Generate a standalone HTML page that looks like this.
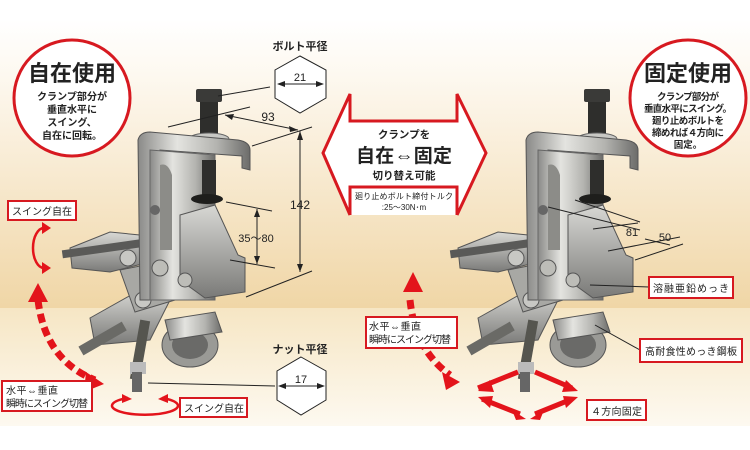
<!DOCTYPE html>
<html><head><meta charset="utf-8"><style>
html,body{margin:0;padding:0;background:#fff}
svg{display:block}
text{font-family:"Liberation Sans","Noto Sans CJK JP",sans-serif;fill:#222}
</style></head><body>
<svg width="750" height="450" viewBox="0 0 750 450" xmlns="http://www.w3.org/2000/svg">
<defs>
<linearGradient id="bg1" x1="0" y1="0" x2="0" y2="1">
<stop offset="0" stop-color="#ffffff"/><stop offset="0.2" stop-color="#fdf8ef"/><stop offset="1" stop-color="#f0d6a6"/>
</linearGradient>
<linearGradient id="bg2" x1="0" y1="0" x2="0" y2="1">
<stop offset="0" stop-color="#f6e6c4"/><stop offset="1" stop-color="#fdf9f0"/>
</linearGradient>
<linearGradient id="met" x1="0" y1="0" x2="1" y2="0">
<stop offset="0" stop-color="#8a8a88"/><stop offset="0.35" stop-color="#e4e4e0"/><stop offset="0.7" stop-color="#b4b4b0"/><stop offset="1" stop-color="#6c6c6a"/>
</linearGradient>
<linearGradient id="met2" x1="0" y1="0" x2="0" y2="1">
<stop offset="0" stop-color="#d8d8d4"/><stop offset="1" stop-color="#7a7a78"/>
</linearGradient>
<g id="clamp">
  <path d="M70 248 L110 232 L150 236 L150 262 L110 272 L72 268 Z" fill="url(#met2)" stroke="#555" stroke-width="1"/>
  <rect x="62" y="245" width="90" height="8" fill="#5a5a58" transform="rotate(-8 100 249)"/>
  <path d="M90 318 L140 290 L170 300 L150 340 L95 345 Z" fill="url(#met2)" stroke="#555" stroke-width="1"/>
  <rect x="78" y="335" width="50" height="10" fill="#6a6a66" transform="rotate(-30 100 340)"/>
  <ellipse cx="190" cy="345" rx="28" ry="22" fill="#9a9a96" stroke="#555"/>
  <ellipse cx="190" cy="345" rx="18" ry="14" fill="#6a6a68"/>
  <path d="M165 320 L215 312 L222 332 L170 340 Z" fill="url(#met)" stroke="#555"/>
  <rect x="135" y="320" width="10" height="60" fill="#55554f" transform="rotate(10 140 350)"/>
  <rect x="130" y="362" width="16" height="12" fill="#bbb"/>
  <rect x="132" y="372" width="10" height="20" fill="#666"/>
  <path d="M120 270 L160 262 L175 300 L135 312 Z" fill="#a8a8a4" stroke="#555"/>
  <circle cx="128" cy="258" r="8" fill="#c8c8c4" stroke="#555"/>
  <circle cx="143" cy="300" r="8" fill="#c8c8c4" stroke="#555"/>
  <rect x="200" y="100" width="18" height="38" fill="#2e2e2c"/>
  <rect x="196" y="89" width="26" height="13" rx="2" fill="#3a3a38"/>
  <ellipse cx="209" cy="139" rx="20" ry="6" fill="#c8c8c4" stroke="#666"/>
  <path d="M138 140 Q140 132 150 132 L238 140 Q250 142 250 150 L250 170 L242 168 L242 156 L160 150 L160 300 L140 300 Z" fill="url(#met)" stroke="#555" stroke-width="1"/>
  <path d="M150 150 L215 155 L215 300 L150 300 Z" fill="url(#met)" stroke="#666" stroke-width="1"/>
  <path d="M160 165 Q168 162 172 175 L172 250 L160 250 Z" fill="#8c8c88"/>
  <path d="M180 215 L215 205 L238 255 L245 258 L245 292 L205 298 L180 280 Z" fill="url(#met2)" stroke="#555"/>
  <rect x="202" y="160" width="14" height="38" fill="#2e2e2c"/>
  <ellipse cx="207" cy="199" rx="16" ry="5" fill="#1e1e1c"/>
  <circle cx="155" cy="210" r="5" fill="#666"/>
  <circle cx="160" cy="268" r="8" fill="#bdbdb8" stroke="#555"/>
  <circle cx="185" cy="280" r="7" fill="#bdbdb8" stroke="#555"/>
</g>
</defs>
<rect width="750" height="450" fill="#fff"/>
<rect x="0" y="20" width="750" height="288" fill="url(#bg1)"/>
<rect x="0" y="308" width="750" height="118" fill="url(#bg2)"/>

<use href="#clamp"/>
<use href="#clamp" transform="translate(388 0)"/>

<g stroke="#222" stroke-width="1" fill="none">
 <line x1="218" y1="96" x2="270" y2="87"/>
 <line x1="168" y1="127" x2="250" y2="107"/>
 <line x1="252" y1="146" x2="312" y2="127"/>
 <line x1="225" y1="115" x2="298" y2="130"/>
 <line x1="300" y1="131" x2="300" y2="272"/>
 <line x1="246" y1="297" x2="312" y2="271"/>
 <line x1="226" y1="202" x2="272" y2="211"/>
 <line x1="230" y1="260" x2="275" y2="268"/>
 <line x1="257" y1="209" x2="257" y2="264"/>
 <line x1="148" y1="383" x2="275" y2="386"/>
</g>
<g fill="#222">
 <polygon points="225,115 234,114 232,120"/>
 <polygon points="298,130 289,126 290,132"/>
 <polygon points="300,131 297,140 303,140"/>
 <polygon points="300,272 297,264 303,264"/>
 <polygon points="257,209 254,217 260,217"/>
 <polygon points="257,264 254,256 260,256"/>
</g>
<text x="268" y="121" font-size="12" text-anchor="middle">93</text>
<text x="300" y="209" font-size="12" text-anchor="middle">142</text>
<text x="256" y="242" font-size="11" text-anchor="middle">35〜80</text>

<text x="300" y="50" font-size="11" font-weight="bold" text-anchor="middle">ボルト平径</text>
<polygon points="300,56 326,70 326,98 300,113 275,98 275,70" fill="#fff" stroke="#222"/>
<line x1="278" y1="84" x2="323" y2="84" stroke="#222"/>
<polygon points="277,84 285,81 285,87" fill="#222"/><polygon points="324,84 316,81 316,87" fill="#222"/>
<text x="300" y="81" font-size="11" text-anchor="middle">21</text>

<text x="300" y="353" font-size="11" font-weight="bold" text-anchor="middle">ナット平径</text>
<polygon points="301,357 326,371 326,400 301,415 277,400 277,371" fill="#fff" stroke="#222"/>
<line x1="280" y1="386" x2="323" y2="386" stroke="#222"/>
<polygon points="278,386 286,383 286,389" fill="#222"/><polygon points="325,386 317,383 317,389" fill="#222"/>
<text x="301" y="383" font-size="11" text-anchor="middle">17</text>

<g stroke="#222" stroke-width="1" fill="none">
 <line x1="548" y1="207" x2="640" y2="230"/>
 <line x1="575" y1="200" x2="640" y2="222"/>
 <line x1="608" y1="251" x2="680" y2="237"/>
 <line x1="635" y1="260" x2="683" y2="244"/>
 <line x1="593" y1="229" x2="638" y2="223"/>
 <line x1="645" y1="239" x2="670" y2="245"/>
 <line x1="590" y1="285" x2="649" y2="287"/>
 <line x1="595" y1="325" x2="640" y2="350"/>
</g>
<text x="632" y="236" font-size="11" text-anchor="middle">81</text>
<text x="665" y="241" font-size="11" text-anchor="middle">50</text>

<circle cx="72" cy="98" r="58" fill="#fff" stroke="#d71920" stroke-width="3"/>
<text x="72" y="81" font-size="22" font-weight="bold" text-anchor="middle">自在使用</text>
<g font-size="10" font-weight="bold" text-anchor="middle">
<text x="72" y="100" textLength="70">クランプ部分が</text><text x="72" y="113">垂直水平に</text>
<text x="72" y="126">スイング、</text><text x="72" y="139">自在に回転。</text></g>

<circle cx="688" cy="98" r="58" fill="#fff" stroke="#d71920" stroke-width="3"/>
<text x="688" y="81" font-size="22" font-weight="bold" text-anchor="middle">固定使用</text>
<g font-size="9.5" font-weight="bold" text-anchor="middle">
<text x="688" y="100" textLength="62">クランプ部分が</text><text x="688" y="112" textLength="88">垂直水平にスイング。</text>
<text x="688" y="124" textLength="72">廻り止めボルトを</text><text x="688" y="136" textLength="72">締めれば４方向に</text><text x="688" y="148">固定。</text></g>

<polygon points="323,153 350,94 350,121 457,121 457,94 486,153 457,215 350,215" fill="#fff"/>
<polyline points="350,215 350,187 457,187 457,215" fill="none" stroke="#d71920" stroke-width="3"/>
<polyline points="350,215 323,153 350,94 350,121 457,121 457,94 486,153 457,215" fill="none" stroke="#d71920" stroke-width="3"/>
<text x="404" y="138" font-size="10.5" font-weight="bold" text-anchor="middle">クランプを</text>
<text x="404" y="162" font-size="19" font-weight="bold" text-anchor="middle" textLength="96">自在⇔固定</text>
<text x="404" y="179" font-size="10.5" font-weight="bold" text-anchor="middle">切り替え可能</text>
<text x="404" y="199" font-size="8" text-anchor="middle" textLength="98">廻り止めボルト締付トルク</text>
<text x="404" y="210" font-size="8" text-anchor="middle">:25〜30N･m</text>

<g fill="none" stroke="#e3141b" stroke-width="2.5">
 <path d="M44 228 A11 20 0 1 0 44 268"/>
 <path d="M128 398 A33 9 0 1 0 162 398"/>
</g>
<polygon points="42,222 51,228 42,234" fill="#e3141b"/>
<polygon points="42,262 51,268 42,274" fill="#e3141b"/>
<polygon points="122,394 132,399 122,403" fill="#e3141b"/>
<polygon points="168,394 158,399 168,403" fill="#e3141b"/>
<path d="M38 300 Q45 360 95 380" fill="none" stroke="#e3141b" stroke-width="7" stroke-dasharray="9 5"/>
<polygon points="38,283 28,302 48,302" fill="#e3141b"/>
<polygon points="104,384 86,372 84,392" fill="#e3141b"/>
<path d="M410 300 Q415 350 450 375" fill="none" stroke="#e3141b" stroke-width="7" stroke-dasharray="9 5"/>
<polygon points="413,272 403,292 423,292" fill="#e3141b"/>
<polygon points="460,382 442,372 446,390" fill="#e3141b"/>
<g stroke="#e3141b" stroke-width="5" fill="#e3141b">
 <line x1="478" y1="388" x2="518" y2="372"/>
 <line x1="535" y1="372" x2="572" y2="388"/>
 <line x1="482" y1="399" x2="520" y2="414"/>
 <line x1="535" y1="414" x2="572" y2="399"/>
</g>
<g fill="#e3141b">
 <polygon points="478,391 490,380 494,392"/><polygon points="578,391 566,380 562,392"/>
 <polygon points="478,397 490,408 493,396"/><polygon points="578,397 566,408 563,396"/>
 <polygon points="526,419 512,410 516,420"/><polygon points="530,419 544,410 540,420"/>
</g>

<g fill="#fff" stroke="#d71920" stroke-width="2">
 <rect x="8" y="201" width="68" height="19"/>
 <rect x="2" y="381" width="90" height="30"/>
 <rect x="180" y="398" width="67" height="19"/>
 <rect x="366" y="317" width="91" height="31"/>
 <rect x="649" y="277" width="84" height="21"/>
 <rect x="640" y="339" width="102" height="23"/>
 <rect x="587" y="400" width="59" height="20"/>
</g>
<g font-size="10">
 <text x="12" y="215" textLength="60">スイング自在</text>
 <text x="6" y="394" textLength="52">水平⇔垂直</text><text x="6" y="407" textLength="82">瞬時にスイング切替</text>
 <text x="184" y="412" textLength="60">スイング自在</text>
 <text x="369" y="330" textLength="52">水平⇔垂直</text><text x="369" y="343" textLength="82">瞬時にスイング切替</text>
 <text x="653" y="292" textLength="76">溶融亜鉛めっき</text>
 <text x="645" y="355" textLength="92">高耐食性めっき鋼板</text>
 <text x="591" y="415" textLength="51">４方向固定</text>
</g>
</svg>
</body></html>
